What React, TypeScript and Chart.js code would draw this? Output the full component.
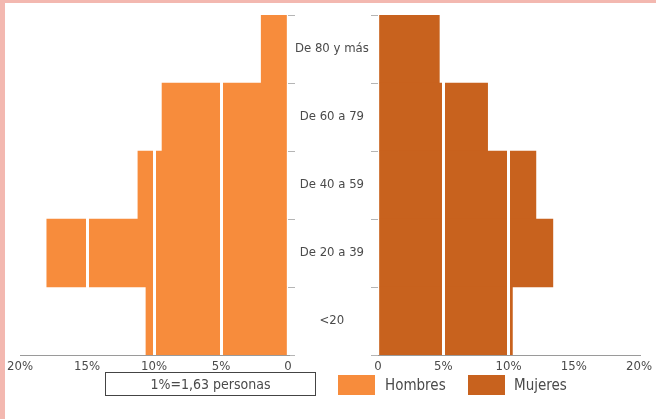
import React, { useEffect, useRef } from "react";
import { Chart, registerables } from "chart.js";

Chart.register(...registerables);

const categories = ["De 80 y más", "De 60 a 79", "De 40 a 59", "De 20 a 39", "<20"];
const hombres = [2.0, 9.4, 11.2, 18.0, 10.6];
const mujeres = [4.7, 8.4, 12.1, 13.4, 10.3];
const xTicks = [0, 5, 10, 15, 20];
const legendNote = "1%=1,63 personas";
const seriesNames = ["Hombres", "Mujeres"];

const FONT = "'Liberation Sans Narrow', 'DejaVu Sans Condensed', 'Arial Narrow', sans-serif";
const TEXT = "#4a4a4a";
const C_H = "#F78C3C";
const C_M = "#C8621E";

const gridColor = (ctx: any) => {
  const v = ctx.tick ? ctx.tick.value : 0;
  return v === 0 || v === 20 ? "rgba(0,0,0,0)" : "#ffffff";
};

const tickLabel = (v: any) => (Number(v) === 0 ? "0" : v + "%");

function makeX(reverse: boolean) {
  return {
    type: "linear" as const,
    min: 0,
    max: 20,
    reverse,
    afterBuildTicks: (s: any) => {
      s.ticks = xTicks.map((v) => ({ value: v }));
    },
    afterFit: (s: any) => {
      s.height = 25;
    },
    grid: { color: gridColor, lineWidth: 3, drawTicks: false, z: 1 },
    border: { display: true, color: "#9a9a9a", width: 1, z: 2 },
    ticks: { callback: tickLabel, color: TEXT, font: { family: FONT, size: 13 }, padding: 4, maxRotation: 0 },
  };
}

export default function App() {
  const leftRef = useRef<HTMLCanvasElement>(null);
  const rightRef = useRef<HTMLCanvasElement>(null);

  useEffect(() => {
    const left = new Chart(leftRef.current!, {
      type: "bar",
      data: {
        labels: categories,
        datasets: [
          { label: seriesNames[0], data: hombres, backgroundColor: C_H, borderWidth: 0, barPercentage: 1, categoryPercentage: 1 },
        ],
      },
      options: {
        indexAxis: "y",
        animation: false,
        responsive: false,
        maintainAspectRatio: false,
        layout: { padding: { left: 20, top: 15, right: 0, bottom: 0 } },
        plugins: { legend: { display: false }, tooltip: { enabled: false } },
        scales: {
          x: makeX(true),
          y: {
            position: "right",
            afterFit: (s: any) => {
              s.width = 90;
            },
            grid: { drawOnChartArea: false, drawTicks: true, tickLength: 7, color: "#b5b5b5" },
            border: { display: false },
            ticks: { color: TEXT, font: { family: FONT, size: 13 }, padding: 0, crossAlign: "center" },
          },
        },
      } as any,
    });
    const right = new Chart(rightRef.current!, {
      type: "bar",
      data: {
        labels: categories,
        datasets: [
          { label: seriesNames[1], data: mujeres, backgroundColor: C_M, borderWidth: 0, barPercentage: 1, categoryPercentage: 1 },
        ],
      },
      options: {
        indexAxis: "y",
        animation: false,
        responsive: false,
        maintainAspectRatio: false,
        layout: { padding: { left: 0, top: 15, right: 0, bottom: 0 } },
        plugins: { legend: { display: false }, tooltip: { enabled: false } },
        scales: {
          x: makeX(false),
          y: {
            position: "left",
            afterFit: (s: any) => {
              s.width = 8;
            },
            grid: { drawOnChartArea: false, drawTicks: true, tickLength: 7, color: "#b5b5b5" },
            border: { display: false },
            ticks: { display: false },
          },
        },
      } as any,
    });
    return () => {
      left.destroy();
      right.destroy();
    };
  }, []);

  const txt: React.CSSProperties = { fontFamily: FONT, color: TEXT, position: "absolute" };

  return (
    <div style={{ position: "fixed", left: 0, top: 0, width: 656, height: 419, background: "#fff", overflow: "hidden" }}>
      <div style={{ position: "absolute", left: 0, top: 0, width: 5, height: 419, background: "#F3B8B0" }} />
      <div style={{ position: "absolute", left: 0, top: 0, width: 656, height: 3, background: "#F3B8B0" }} />
      <canvas ref={leftRef} width={378} height={380} style={{ position: "absolute", left: 0, top: 0 }} />
      <canvas ref={rightRef} width={286} height={380} style={{ position: "absolute", left: 370, top: 0 }} />
      <div
        style={{
          ...txt,
          fontSize: 14,
          left: 105,
          top: 372,
          width: 209,
          height: 22,
          border: "1px solid #444",
          textAlign: "center",
          lineHeight: "22px",
        }}
      >
        {legendNote}
      </div>
      <div style={{ position: "absolute", left: 338, top: 375, width: 37, height: 20, background: C_H }} />
      <div style={{ ...txt, fontSize: 15, left: 385, top: 375, lineHeight: "21px" }}>{seriesNames[0]}</div>
      <div style={{ position: "absolute", left: 468, top: 375, width: 37, height: 20, background: C_M }} />
      <div style={{ ...txt, fontSize: 15, left: 514, top: 375, lineHeight: "21px" }}>{seriesNames[1]}</div>
    </div>
  );
}
